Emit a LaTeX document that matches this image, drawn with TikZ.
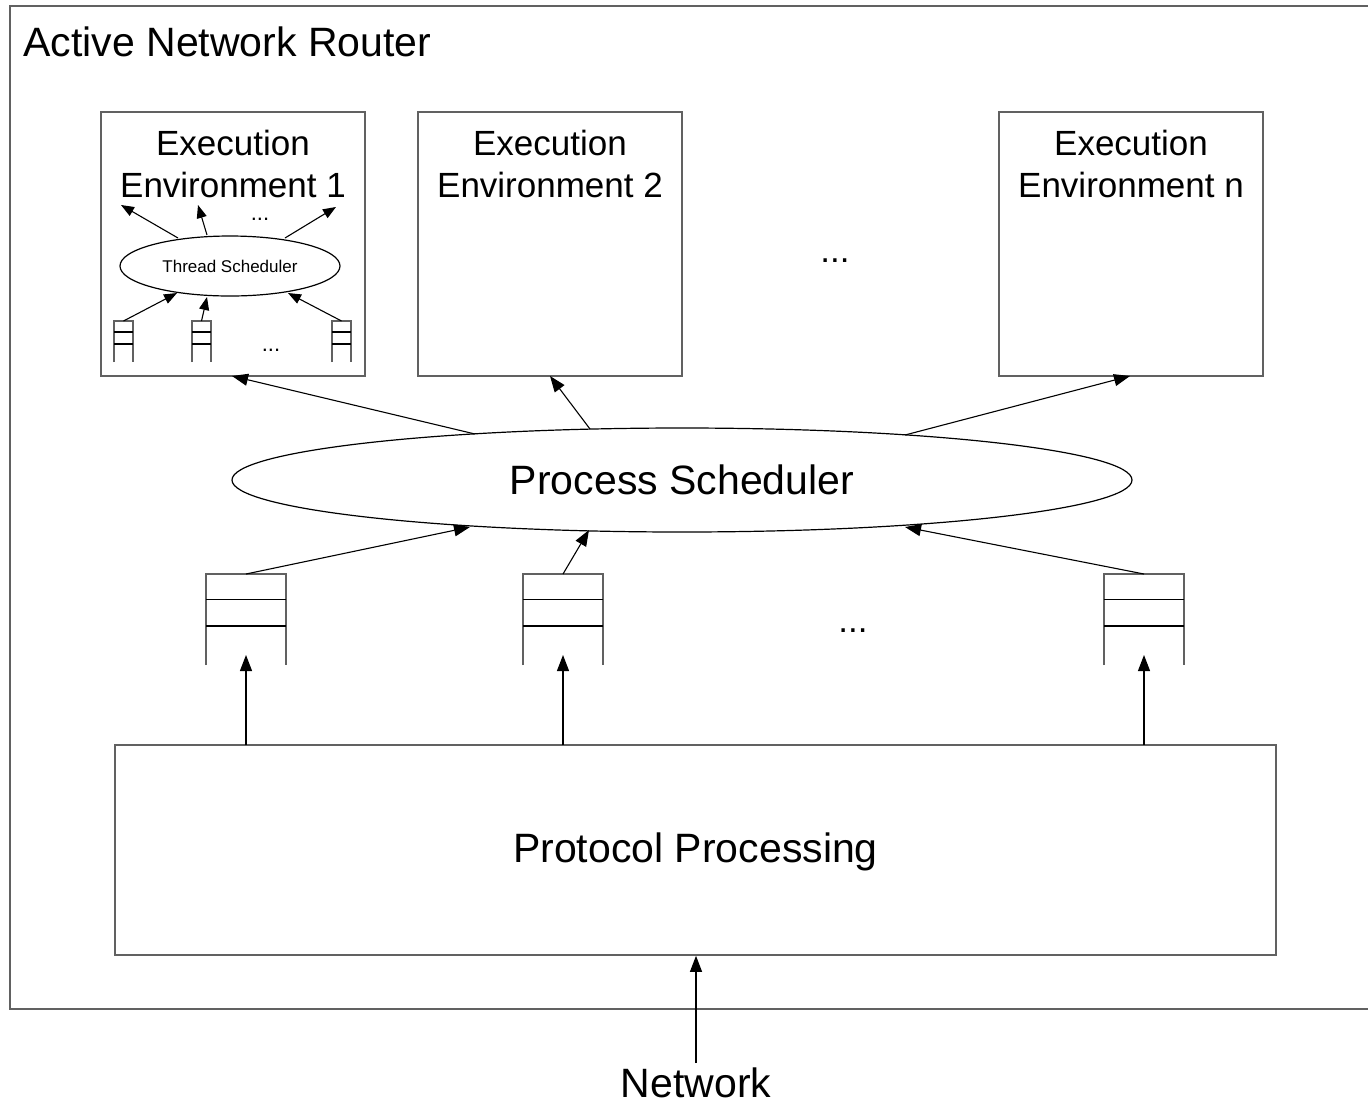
\documentclass[tikz,border=0pt]{standalone}
\usepackage{fontspec}
\setmainfont{Liberation Sans}
\usetikzlibrary{arrows.meta,shapes.geometric}
\tikzset{
  box/.style={draw=black!62, line width=1.6pt},
  qline/.style={draw=black!62, line width=1.6pt},
  sep/.style={draw=black, line width=1.1pt},
  oval/.style={draw=black, line width=1.2pt, ellipse},
  flow/.style={draw=black, line width=1.1pt, -{Triangle[length=16pt,width=12pt]}},
  smallflow/.style={draw=black, line width=1.1pt, -{Triangle[length=13pt,width=10pt]}},
  big/.style={font=\fontsize{41}{44}\selectfont},
  mid/.style={font=\fontsize{35}{42}\selectfont, align=center},
  tiny/.style={font=\fontsize{17}{19}\selectfont},
  dots/.style={font=\fontsize{35}{40}\selectfont, inner sep=0pt, anchor=base},
  smalldots/.style={font=\fontsize{22}{24}\selectfont, inner sep=0pt, anchor=base},
}
\begin{document}
\begin{tikzpicture}[x=1pt,y=-1pt]
\useasboundingbox (0,0) rectangle (1368,1104);
\fill[white] (0,0) rectangle (1368,1104);

% router frame
\draw[box] (1380,6) -- (10,6) -- (10,1009) -- (1380,1009);
\node[big, anchor=west] (title) at (20,42) {Active Network Router};

% execution environments
\draw[box] (101,112) rectangle (365,376);
\draw[box] (418,112) rectangle (682,376);
\draw[box] (999,112) rectangle (1263,376);
\coordinate (ee1) at (232,376);
\coordinate (ee2) at (550,376);
\coordinate (een) at (1130,376);
\node[mid] (ee1t) at (233,164) {Execution\\Environment 1};
\node[mid] (ee2t) at (550,164) {Execution\\Environment 2};
\node[mid] (eent) at (1131,164) {Execution\\Environment n};
\node[dots] (eedots) at (835,262) {...};

% thread scheduler inside EE 1
\node[oval, minimum width=220pt, minimum height=60pt, inner sep=0pt, tiny] (ts) at (230,266) {Thread Scheduler};
\coordinate (t1a) at (178,238); \coordinate (t1b) at (121,205);
\coordinate (t2a) at (207,235); \coordinate (t2b) at (198,205);
\coordinate (t3a) at (285,238); \coordinate (t3b) at (336,207);
\draw[smallflow] (t1a) -- (t1b);
\draw[smallflow] (t2a) -- (t2b);
\draw[smallflow] (t3a) -- (t3b);
\node[smalldots] (tdots1) at (260,220) {...};
\node[smalldots] (tdots2) at (271,351) {...};

% small queues
\foreach \x/\n in {114/sq1,192/sq2,332/sq3}{
  \draw[qline] (\x,362) -- (\x,321) -- (\x+19,321) -- (\x+19,362);
  \draw[sep] (\x,332) -- (\x+19,332);
  \draw[sep] (\x,344) -- (\x+19,344);
  \coordinate (\n) at (\x+9.5,321);
}
\draw[smallflow] (sq1) -- (177,293);
\draw[smallflow] (sq2) -- (207,297);
\draw[smallflow] (sq3) -- (288,293);

% process scheduler
\node[oval, minimum width=900pt, minimum height=104pt, inner sep=0pt, big] (ps) at (682,480) {Process Scheduler};
\coordinate (p1) at (475,434);
\coordinate (p2) at (590,429);
\coordinate (p3) at (905,435);
\draw[flow] (p1) -- (ee1);
\draw[flow] (p2) -- (ee2);
\draw[flow] (p3) -- (een);

% queues
\foreach \x/\n in {206/q1,523/q2,1104/q3}{
  \draw[qline] (\x,665) -- (\x,574) -- (\x+80,574) -- (\x+80,665);
  \draw[sep] (\x,599.5) -- (\x+80,599.5);
  \draw[sep] (\x,626) -- (\x+80,626);
  \coordinate (\n) at (\x+40,574);
  \coordinate (\n b) at (\x+40,655);
}
\node[dots] (qdots) at (853,632) {...};
\draw[flow] (q1) -- (470,527);
\draw[flow] (q2) -- (589,530);
\draw[flow] (q3) -- (905,527);

% protocol processing
\node[box, minimum width=1161pt, minimum height=210pt, inner sep=0pt] (pp) at (695.5,850) {};
\node[big] (ppt) at (695.5,852) {Protocol Processing};
\draw[flow] (246,745) -- (q1b);
\draw[flow] (563,745) -- (q2b);
\draw[flow] (1144,745) -- (q3b);

% network
\node[big] (net) at (696,1083) {Network};
\coordinate (netin) at (696,1063);
\draw[flow] (netin) -- (pp.south -| netin);
\end{tikzpicture}
\end{document}
